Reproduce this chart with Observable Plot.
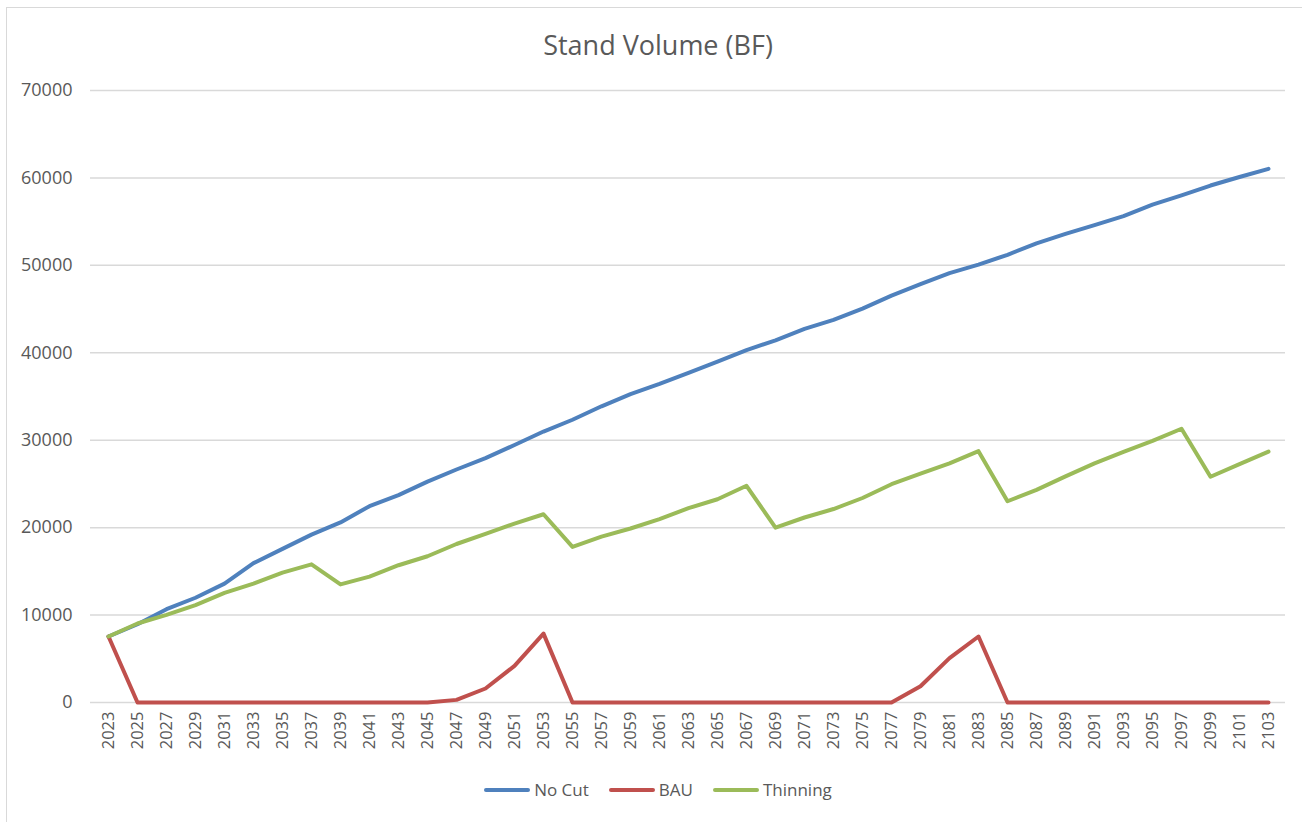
<!DOCTYPE html>
<html><head><meta charset="utf-8">
<script src="https://cdn.jsdelivr.net/npm/d3@7"></script>
<script src="https://cdn.jsdelivr.net/npm/@observablehq/plot@0.6"></script>
<style>
body{margin:0;background:#fff;font-family:"Open Sans",sans-serif;}
#wrap{position:relative;width:1302px;height:822px;overflow:hidden;background:#fff;}
#frame{position:absolute;left:6px;top:7px;width:1330px;height:840px;border:1.5px solid #d9d9d9;box-sizing:border-box}
#title{position:absolute;top:31px;left:6px;width:1304px;text-align:center;font-size:27px;line-height:1;color:#595959;}
#chart{position:absolute;left:0;top:0}
#legend{position:absolute;top:778px;left:6px;width:1304px;display:flex;justify-content:center;align-items:center;font-size:17px;color:#595959;}
.item{display:flex;align-items:center;margin:0 10px;}
.sw{display:inline-block;width:46px;height:4px;border-radius:2px;margin-right:4px;}
</style></head>
<body>
<div id="wrap">
  <div id="frame"></div>
  <div id="chart"></div>
  <div id="title">Stand Volume (BF)</div>
  <div id="legend"></div>
</div>
<script>
const years = [2023,2025,2027,2029,2031,2033,2035,2037,2039,2041,2043,2045,2047,2049,2051,2053,2055,2057,2059,2061,2063,2065,2067,2069,2071,2073,2075,2077,2079,2081,2083,2085,2087,2089,2091,2093,2095,2097,2099,2101,2103];
const noCut = [7550,8950,10670,11980,13600,15940,17570,19200,20600,22460,23720,25260,26650,27950,29450,30990,32340,33880,35280,36440,37700,39000,40310,41430,42730,43760,45060,46530,47860,49110,50090,51210,52520,53590,54610,55640,56940,58010,59130,60110,61040];
const bau = [7550,0,0,0,0,0,0,0,0,0,0,0,300,1600,4190,7880,0,0,0,0,0,0,0,0,0,0,0,0,1860,5080,7550,0,0,0,0,0,0,0,0,0,0];
const thinning = [7550,9040,10020,11140,12530,13600,14860,15800,13510,14400,15700,16730,18130,19300,20460,21530,17800,18970,19900,20970,22230,23250,24790,19990,21160,22130,23390,24970,26190,27350,28750,23020,24320,25860,27350,28660,29920,31310,25820,27260,28700];
const seriesNames = ["No Cut","BAU","Thinning"];
const seriesColors = ["#4F81BD","#C0504D","#9BBB59"];
const yTicks = [0,10000,20000,30000,40000,50000,60000,70000];

const seriesValues = [noCut, bau, thinning];
const data = seriesNames.flatMap((s, k) => years.map((y, i) => ({year: y, series: s, value: seriesValues[k][i]})));

const chart = Plot.plot({
  width: 1302, height: 760,
  marginTop: 90, marginBottom: 58, marginLeft: 90, marginRight: 17,
  style: {fontFamily: '"Open Sans", sans-serif', fontSize: "17px", color: "#595959", background: "transparent"},
  x: {type: "point", domain: years, padding: 0.5},
  y: {domain: [0, 70000]},
  color: {domain: seriesNames, range: seriesColors},
  marks: [
    Plot.ruleY(yTicks, {stroke: "#d9d9d9", strokeWidth: 1.5}),
    Plot.axisY(yTicks, {tickSize: 0, tickPadding: 18, tickFormat: d => String(d), label: null, fontSize: 18}),
    Plot.axisX(years, {tickSize: 0, tickPadding: 9, tickRotate: -90, tickFormat: d => String(d), label: null, fontSize: 16.5}),
    Plot.line(data, {x: "year", y: "value", z: "series", stroke: "series", strokeWidth: 4, strokeLinejoin: "round", strokeLinecap: "round"})
  ]
});
document.getElementById("chart").appendChild(chart);

const legend = document.getElementById("legend");
seriesNames.forEach((s, k) => {
  const it = document.createElement("span");
  it.className = "item";
  it.innerHTML = `<span class="sw" style="background:${seriesColors[k]}"></span>${s}`;
  legend.appendChild(it);
});
</script>
</body></html>
